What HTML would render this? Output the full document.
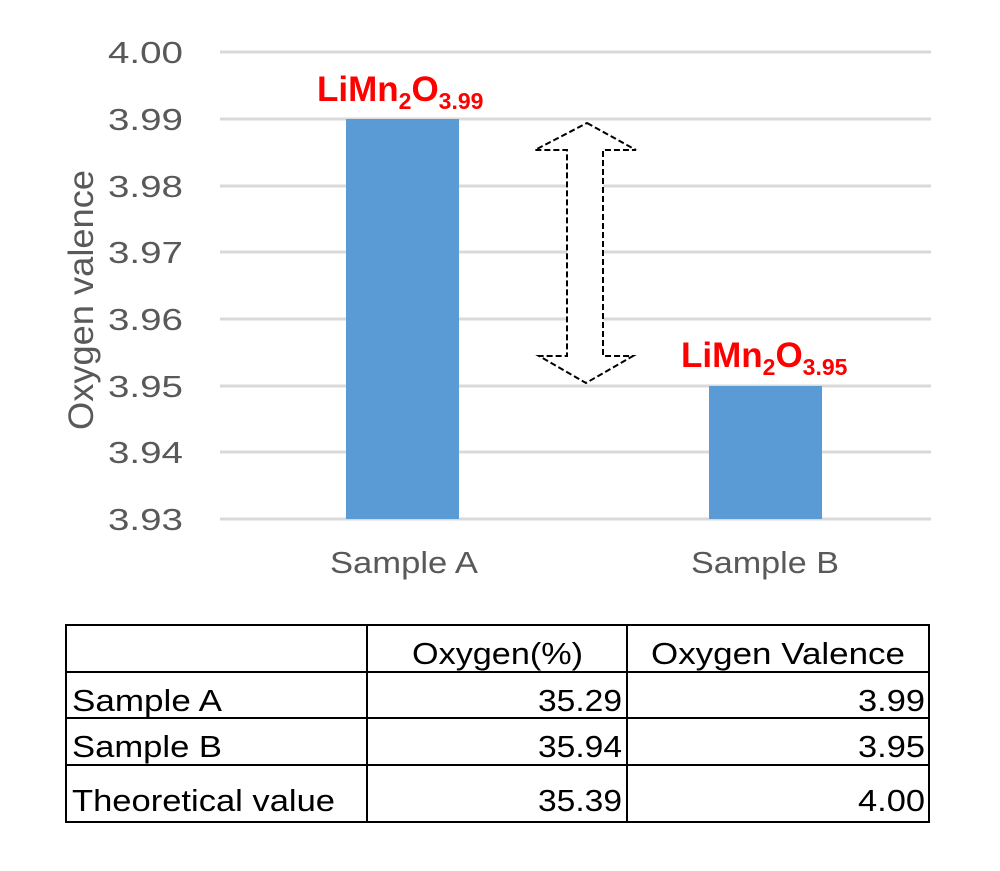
<!DOCTYPE html>
<html><head><style>
body{margin:0;background:#fff;width:1000px;height:866px;overflow:hidden}
</style></head><body>
<svg width="1000" height="866" xmlns="http://www.w3.org/2000/svg" font-family="Liberation Sans, sans-serif">
<g stroke="#d9d9d9" stroke-width="3">
<line x1="220" x2="931" y1="52" y2="52"/><line x1="220" x2="931" y1="119" y2="119"/>
<line x1="220" x2="931" y1="186" y2="186"/><line x1="220" x2="931" y1="252" y2="252"/>
<line x1="220" x2="931" y1="319" y2="319"/><line x1="220" x2="931" y1="386" y2="386"/>
<line x1="220" x2="931" y1="452" y2="452"/><line x1="220" x2="931" y1="519" y2="519"/>
</g>
<rect x="346" y="119" width="113" height="400" fill="#5b9bd5"/>
<rect x="709" y="386" width="113" height="133" fill="#5b9bd5"/>
<g fill="#595959" font-size="31" lengthAdjust="spacingAndGlyphs">
<text x="108" y="63" textLength="75" lengthAdjust="spacingAndGlyphs">4.00</text>
<text x="108" y="130" textLength="75" lengthAdjust="spacingAndGlyphs">3.99</text>
<text x="108" y="197" textLength="75" lengthAdjust="spacingAndGlyphs">3.98</text>
<text x="108" y="263" textLength="75" lengthAdjust="spacingAndGlyphs">3.97</text>
<text x="108" y="330" textLength="75" lengthAdjust="spacingAndGlyphs">3.96</text>
<text x="108" y="397" textLength="75" lengthAdjust="spacingAndGlyphs">3.95</text>
<text x="108" y="463" textLength="75" lengthAdjust="spacingAndGlyphs">3.94</text>
<text x="108" y="530" textLength="75" lengthAdjust="spacingAndGlyphs">3.93</text>
<text x="330" y="573" textLength="148" lengthAdjust="spacingAndGlyphs">Sample A</text>
<text x="691" y="573" textLength="148" lengthAdjust="spacingAndGlyphs">Sample B</text>
</g>
<text transform="translate(93,300) rotate(-90)" fill="#595959" font-size="35" text-anchor="middle" textLength="260" lengthAdjust="spacingAndGlyphs">Oxygen valence</text>
<g fill="#ff0000" font-weight="bold" font-size="35">
<text x="317" y="101">LiMn<tspan font-size="23" dy="8">2</tspan><tspan dy="-8">O</tspan><tspan font-size="23" dy="8">3.99</tspan></text>
<text x="681" y="367">LiMn<tspan font-size="23" dy="8">2</tspan><tspan dy="-8">O</tspan><tspan font-size="23" dy="8">3.95</tspan></text>
</g>
<path d="M587,123 L636,150 L603,150 L603,356 L633,356 L586,383 L539,356 L567,356 L567,150 L535,150 Z" fill="#fff" stroke="#000" stroke-width="2" stroke-dasharray="6,3"/>
<g stroke="#000" stroke-width="2" fill="none">
<rect x="66" y="625" width="863" height="197"/>
<line x1="367" x2="367" y1="625" y2="822"/><line x1="627" x2="627" y1="625" y2="822"/>
<line x1="66" x2="929" y1="672" y2="672"/><line x1="66" x2="929" y1="718" y2="718"/><line x1="66" x2="929" y1="765" y2="765"/>
</g>
<g font-size="31" fill="#000">
<text x="412" y="664" textLength="171" lengthAdjust="spacingAndGlyphs">Oxygen(%)</text>
<text x="651" y="664" textLength="254" lengthAdjust="spacingAndGlyphs">Oxygen Valence</text>
<text x="72" y="711" textLength="150" lengthAdjust="spacingAndGlyphs">Sample A</text>
<text x="72" y="757" textLength="150" lengthAdjust="spacingAndGlyphs">Sample B</text>
<text x="72" y="811" textLength="263" lengthAdjust="spacingAndGlyphs">Theoretical value</text>
<text x="538" y="711" textLength="84" lengthAdjust="spacingAndGlyphs">35.29</text>
<text x="538" y="757" textLength="84" lengthAdjust="spacingAndGlyphs">35.94</text>
<text x="538" y="811" textLength="84" lengthAdjust="spacingAndGlyphs">35.39</text>
<text x="858" y="711" textLength="67" lengthAdjust="spacingAndGlyphs">3.99</text>
<text x="858" y="757" textLength="67" lengthAdjust="spacingAndGlyphs">3.95</text>
<text x="858" y="811" textLength="67" lengthAdjust="spacingAndGlyphs">4.00</text>
</g>
</svg>
</body></html>
